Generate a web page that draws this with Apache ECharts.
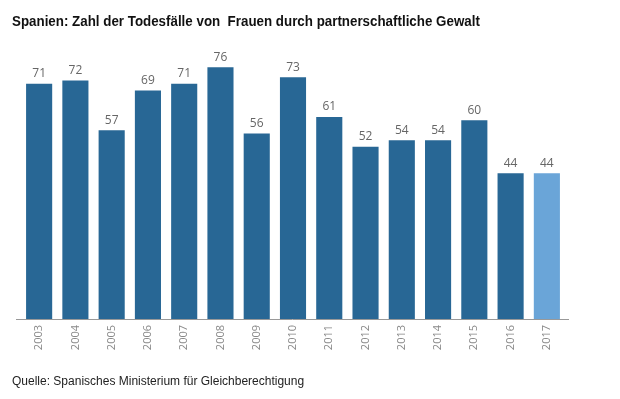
<!DOCTYPE html>
<html>
<head>
<meta charset="utf-8">
<script src="https://cdn.jsdelivr.net/npm/echarts@6/dist/echarts.min.js"></script>
<style>
  html, body { margin: 0; padding: 0; background: #fff; }
  #chart { width: 620px; height: 399px; }
</style>
</head>
<body>
<div id="chart"></div>
<script>
// Jahre und Todesfälle
var years = ['2003', '2004', '2005', '2006', '2007', '2008', '2009', '2010',
  '2011', '2012', '2013', '2014', '2015', '2016', '2017'];
var deaths = [71, 72, 57, 69, 71, 76, 56, 73, 61, 52, 54, 54, 60, 44, 44];

var titleText = 'Spanien: Zahl der Todesfälle von  Frauen durch partnerschaftliche Gewalt';
var sourceText = 'Quelle: Spanisches Ministerium für Gleichberechtigung';

var darkBlue = '#286795';
var lightBlue = '#6aa5d8';

var chart = echarts.init(document.getElementById('chart'));

chart.setOption({
  animation: false,
  title: {
    text: sourceText,
    left: 12,
    top: 376,
    padding: 0,
    textStyle: {
      fontFamily: 'Liberation Sans',
      fontSize: 12,
      fontWeight: 'normal',
      color: '#222'
    }
  },
  grid: {
    left: 21,
    right: 55,
    top: 54,
    bottom: 80
  },
  graphic: [{
    // Titel, etwas schmaler gesetzt wie im Original
    type: 'text',
    x: 12,
    y: 14,
    scaleX: 0.89,
    style: {
      text: titleText,
      font: 'bold 15px "Liberation Sans"',
      fill: '#111',
      textVerticalAlign: 'top'
    }
  }, {
    // Achsenlinie etwas über die Balken hinaus verlängert
    type: 'line',
    shape: { x1: 16, y1: 319.5, x2: 569, y2: 319.5 },
    style: { stroke: '#999', lineWidth: 1 }
  }],
  xAxis: {
    type: 'category',
    data: years,
    axisLine: { show: false },
    axisTick: { show: false },
    axisLabel: {
      rotate: 90,
      color: '#888',
      fontFamily: 'Open Sans',
      fontSize: 11,
      margin: 6
    }
  },
  yAxis: {
    type: 'value',
    min: 0,
    max: 80,
    show: false,
    splitLine: { show: false }
  },
  series: [{
    type: 'bar',
    data: deaths.map(function (v, i) {
      return {
        value: v,
        itemStyle: { color: i === deaths.length - 1 ? lightBlue : darkBlue }
      };
    }),
    barCategoryGap: '28%',
    label: {
      show: true,
      position: 'top',
      distance: 4,
      color: '#666',
      fontFamily: 'Open Sans',
      fontSize: 12
    }
  }]
});
</script>
</body>
</html>
